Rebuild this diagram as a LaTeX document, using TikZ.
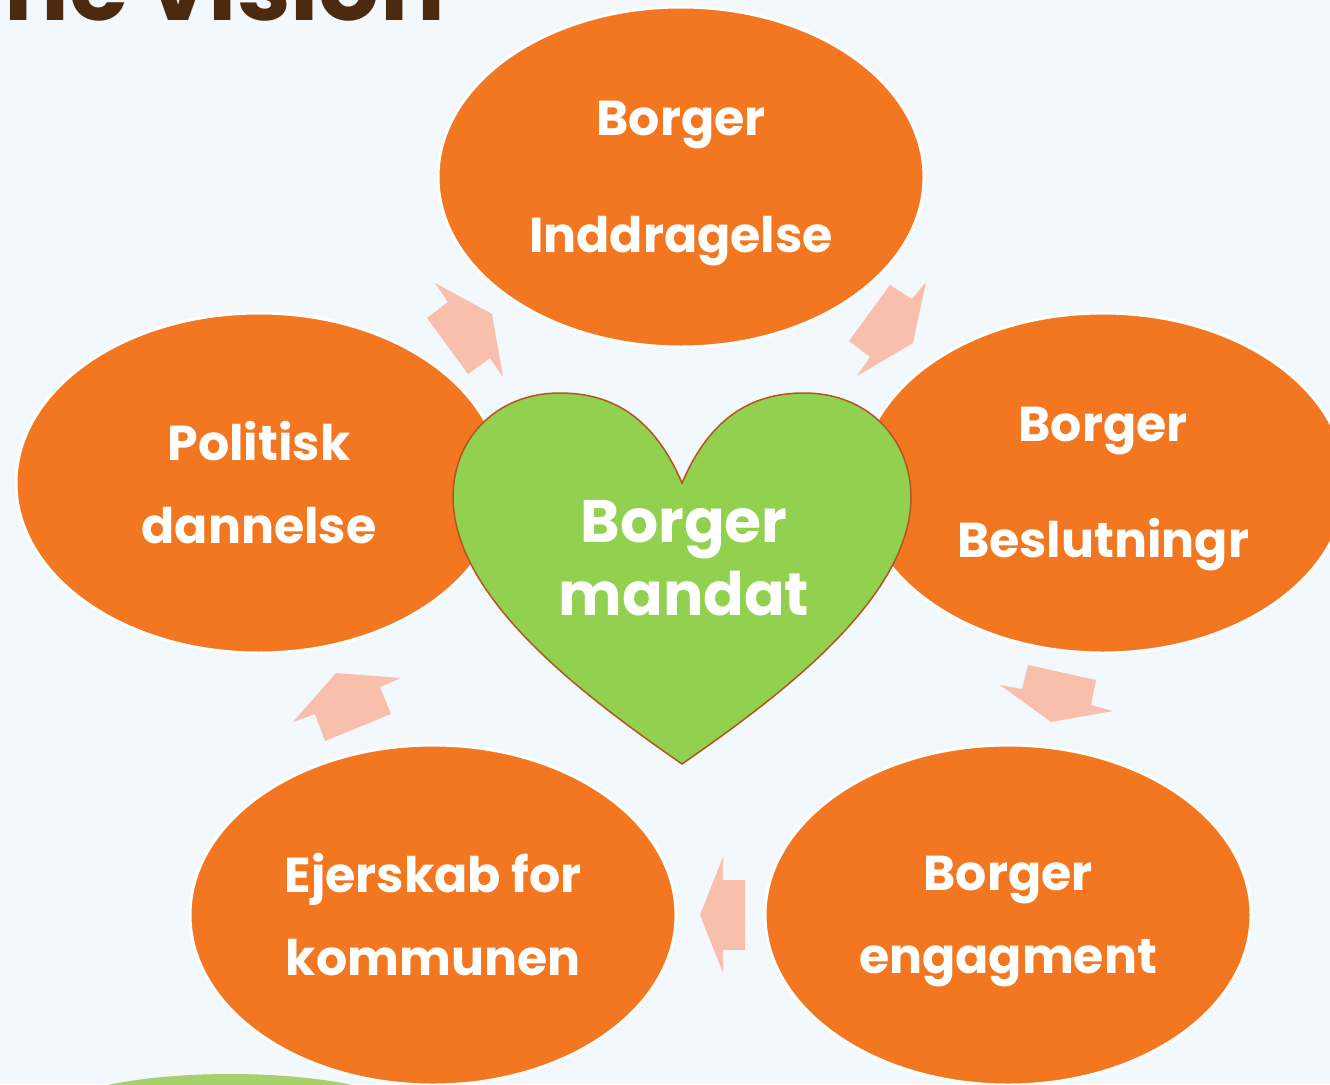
\documentclass[tikz,border=0pt]{standalone}
\usepackage{fontspec}
\setmainfont{Poppins}
\usetikzlibrary{shapes.geometric}
\definecolor{paper}{HTML}{F3F8FC}
\definecolor{bubbleorange}{HTML}{F37721}
\definecolor{flowpink}{HTML}{F8BFAD}
\definecolor{heartgreen}{HTML}{92D050}
\definecolor{heartrim}{HTML}{B0561E}
\definecolor{titlebrown}{HTML}{4B2A0F}
\definecolor{grass}{HTML}{A6D06A}
\begin{document}
\begin{tikzpicture}[x=1pt,y=-1pt,
    bubble/.style={ellipse,fill=bubbleorange,draw=white,line width=3pt,
      minimum width=486pt,minimum height=340pt},
    bubbletext/.style={text=white,align=center,
      font=\bfseries\fontsize{49}{83}\selectfont},
    flow/.style={fill=flowpink},
    heart/.style={fill=heartgreen,draw=heartrim,line width=1.5pt}]
  \useasboundingbox[fill=paper] (0,0) rectangle (1330,1084);
  \fill[grass] (230,1118) ellipse [x radius=185, y radius=44];
  \node[anchor=base east,text=titlebrown,inner sep=0pt,
    font=\bfseries\fontsize{96}{96}\selectfont] (title) at (445,20) {ane vision};
  \draw
    (681,177) node[bubble] (inddragelse) {}
    (1103,483) node[bubble] (beslutning) {}
    (1008,915) node[bubble] (engagement) {}
    (433,915) node[bubble] (ejerskab) {}
    (259,483) node[bubble] (dannelse) {};
  \node[bubbletext] (inddragelse-t) at ([yshift=-7pt]inddragelse) {Borger\\[34pt]Inddragelse};
  \node[bubbletext] (beslutning-t) at ([yshift=-6pt]beslutning) {Borger\\[33pt]Beslutningr};
  \node[bubbletext] (engagement-t) at ([yshift=-7pt]engagement) {Borger\\engagment};
  \node[bubbletext] (ejerskab-t) at (ejerskab) {Ejerskab for\\kommunen};
  \node[bubbletext] (dannelse-t) at (dannelse) {Politisk\\dannelse};
  \begin{scope}[flow]
    \fill (435,283) -- (492,314) -- (503,377) -- (490,358) -- (468,374) -- (427,318) -- (448,302) -- cycle;
    \fill (890,285) -- (912,299) -- (926,282) -- (913,343) -- (857,376) -- (870,357) -- (849,341) -- cycle;
    \fill (1028,665) -- (1096,680) -- (1091,705) -- (1113,711) -- (1051,722) -- (1000,685) -- (1022,689) -- cycle;
    \fill (723,857) -- (723,880) -- (745,880) -- (745,950) -- (723,950) -- (723,973) -- (700,915) -- cycle;
    \fill (336,673) -- (401,678) -- (380,687) -- (391,714) -- (325,741) -- (315,714) -- (293,722) -- cycle;
  \end{scope}
  \coordinate (dip) at (682,483);
  \coordinate (tip) at (682,764);
  \draw[heart] (dip) .. controls (655,420) and (615,393) .. (560,393)
    .. controls (495,393) and (453,440) .. (453,497)
    .. controls (453,600) and (590,700) .. (tip)
    .. controls (774,700) and (911,600) .. (911,497)
    .. controls (911,440) and (869,393) .. (804,393)
    .. controls (749,393) and (709,420) .. (dip) -- cycle;
  \node[text=white,align=center,font=\bfseries\fontsize{60}{73}\selectfont]
    (mandat) at (684,558) {Borger\\mandat};
\end{tikzpicture}
\end{document}
